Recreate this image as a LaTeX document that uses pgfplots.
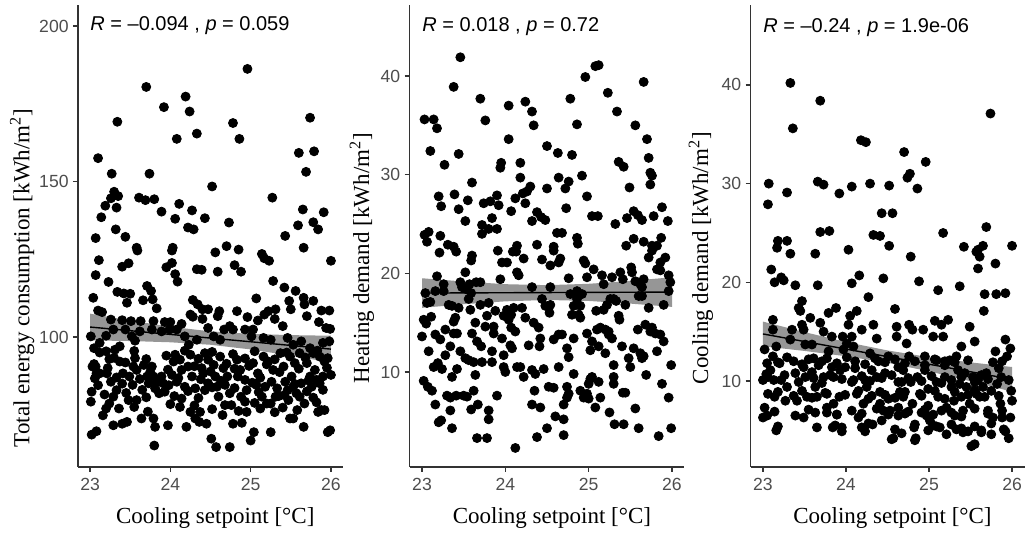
\documentclass[border=0pt]{standalone}
\usepackage{fontspec}
\setmainfont{Liberation Serif}
\newfontfamily\arial{Liberation Sans}
\usepackage{pgfplots}
\usepackage{pgfplotstable}
\pgfplotsset{compat=1.18}
\definecolor{tickgray}{HTML}{4D4D4D}
\definecolor{bandgray}{HTML}{505050}

% total energy consumption vs cooling setpoint
\pgfplotstableread[row sep=\\]{
x y\\
23.10 157.5\\ 23.07 131.8\\ 23.14 138.5\\ 23.19 142.2\\ 23.27 152.5\\ 23.26 144.6\\ 23.30 146.7\\ 23.35 145.3\\
23.33 141.6\\ 23.32 134.6\\ 23.34 169.2\\ 23.44 132.2\\ 23.61 144.8\\ 23.69 144.0\\ 23.80 144.3\\ 23.70 180.4\\
23.74 152.5\\ 23.89 140.3\\ 23.92 173.9\\ 24.06 138.0\\ 24.08 163.7\\ 24.11 142.8\\ 24.19 177.3\\ 24.24 172.5\\
24.22 135.2\\ 24.29 134.6\\ 24.27 140.7\\ 24.33 165.4\\ 24.43 138.2\\ 24.52 148.4\\ 24.73 136.8\\ 24.78 168.8\\
24.86 163.7\\ 24.96 186.2\\ 25.27 144.8\\ 25.43 132.5\\ 25.59 135.9\\ 25.60 159.2\\ 25.65 141.0\\ 25.69 153.1\\
25.74 170.5\\ 25.79 159.7\\ 25.78 136.9\\ 25.84 134.6\\ 25.91 140.1\\ 23.58 128.7\\ 24.03 128.7\\ 24.70 129.2\\
25.66 128.7\\
23.11 124.7\\ 23.07 119.9\\ 23.04 112.6\\ 23.23 117.7\\ 23.34 114.5\\ 23.42 114.0\\ 23.50 113.9\\ 23.40 122.6\\
23.48 123.7\\ 23.59 127.8\\ 23.46 111.0\\ 23.66 111.8\\ 23.71 116.4\\ 23.76 114.8\\ 23.78 112.1\\ 23.83 109.2\\
23.95 122.4\\ 24.02 127.8\\ 24.02 123.8\\ 24.06 120.2\\ 24.09 117.8\\ 24.33 121.8\\ 24.39 121.6\\ 24.56 127.2\\
24.59 121.0\\ 24.80 123.1\\ 24.88 121.0\\ 24.85 128.1\\ 25.14 126.7\\ 25.17 125.3\\ 25.23 124.5\\ 25.28 118.0\\
25.42 115.9\\ 25.56 114.8\\ 26.00 124.5\\ 25.07 112.4\\ 24.28 111.9\\ 24.34 110.5\\ 24.40 108.9\\ 24.47 108.9\\
24.25 107.2\\ 24.28 106.5\\ 24.40 105.8\\ 24.59 106.7\\ 24.61 108.3\\ 24.74 103.5\\ 24.83 108.3\\ 24.96 106.4\\
25.03 102.4\\ 25.09 105.3\\ 25.17 107.2\\ 25.22 108.3\\ 25.31 108.9\\ 25.30 105.8\\ 25.40 103.5\\ 25.48 111.6\\
25.50 108.9\\ 25.66 112.6\\ 25.67 110.5\\ 25.78 111.6\\ 25.70 106.7\\ 25.85 104.8\\ 25.88 108.5\\ 25.98 108.5\\
25.94 102.9\\ 25.99 102.6\\ 25.98 98.6\\ 25.90 98.1\\ 26.00 87.8\\ 25.99 70.0\\ 25.96 69.4\\ 23.01 100.2\\
23.10 108.5\\ 23.15 108.0\\ 23.26 105.6\\ 23.40 105.4\\ 23.51 105.1\\ 23.63 105.1\\ 23.79 105.1\\ 23.93 104.8\\
24.00 104.8\\ 24.14 104.2\\ 24.08 102.4\\ 23.20 100.4\\ 23.29 102.4\\ 23.44 102.4\\ 23.52 100.2\\ 23.56 98.8\\
23.62 101.8\\ 23.77 102.4\\ 23.89 101.8\\ 23.99 102.4\\ 24.18 100.2\\ 24.23 97.5\\ 24.33 99.1\\ 24.47 102.9\\
24.54 100.2\\ 24.62 99.1\\ 24.67 102.4\\ 24.78 102.4\\ 24.93 102.4\\ 25.01 100.2\\ 25.16 99.7\\ 25.25 99.1\\
25.46 99.7\\ 25.53 97.5\\ 25.63 98.6\\ 25.74 96.4\\ 25.78 94.8\\
23.05 96.4\\ 23.12 98.1\\ 23.20 95.4\\ 23.24 92.9\\ 23.31 95.9\\ 23.37 97.0\\ 23.07 90.5\\ 23.03 90.5\\
23.08 88.3\\ 23.12 88.3\\ 23.06 86.7\\ 23.02 82.4\\ 23.01 79.2\\ 23.21 88.3\\ 23.26 85.6\\ 23.33 82.9\\
23.29 80.8\\ 23.24 78.6\\ 23.36 77.0\\ 23.16 74.8\\ 23.02 68.6\\ 23.08 69.7\\ 23.29 71.6\\ 23.40 72.1\\
23.46 72.7\\ 23.37 92.1\\ 23.44 91.8\\ 23.41 88.3\\ 23.49 87.3\\ 23.56 93.2\\ 23.54 90.5\\ 23.58 89.4\\
23.53 84.6\\ 23.58 79.7\\ 23.48 79.7\\ 23.64 73.8\\ 23.67 91.0\\ 23.71 87.3\\ 23.73 85.1\\ 23.77 90.5\\
23.79 87.3\\ 23.81 83.5\\ 23.83 85.6\\ 23.86 81.9\\ 23.89 87.3\\ 23.91 85.1\\ 23.93 82.4\\ 23.79 73.8\\
23.81 71.1\\ 23.80 65.1\\ 23.97 71.6\\ 24.06 94.3\\ 24.04 92.1\\ 24.02 87.8\\ 24.08 85.6\\ 24.12 92.7\\
24.14 89.4\\ 24.18 84.0\\ 24.14 80.2\\ 24.12 77.5\\ 24.20 71.1\\ 24.25 94.3\\ 24.22 90.5\\ 24.27 87.3\\
24.31 83.5\\ 24.25 75.9\\ 24.31 73.8\\ 24.37 75.9\\ 24.36 72.7\\ 24.45 72.1\\ 24.43 94.8\\ 24.47 92.7\\
24.41 88.3\\ 24.47 85.1\\ 24.43 82.9\\ 24.39 90.0\\ 24.54 91.0\\ 24.56 87.3\\ 24.58 84.0\\ 24.60 80.8\\
24.51 67.3\\ 24.57 64.6\\ 24.74 64.6\\ 24.62 93.7\\ 24.66 90.0\\ 24.71 87.3\\ 24.68 84.6\\ 24.74 81.9\\
24.76 78.1\\ 24.68 78.1\\ 24.78 72.1\\ 24.89 72.4\\ 24.83 92.7\\ 24.87 89.4\\ 24.84 87.3\\ 24.93 86.2\\
24.95 82.9\\ 24.93 79.2\\ 24.95 75.9\\ 25.04 69.4\\ 25.00 66.7\\ 25.03 91.6\\ 25.09 88.3\\ 25.07 84.6\\
25.14 80.8\\ 25.20 78.6\\ 25.12 77.0\\ 25.25 69.4\\ 25.16 93.7\\ 25.22 92.1\\ 25.28 89.4\\ 25.26 85.6\\
25.33 83.5\\ 25.31 80.8\\ 25.25 78.6\\ 25.37 94.8\\ 25.41 90.5\\ 25.43 85.6\\ 25.46 82.9\\ 25.42 81.3\\
25.47 79.7\\ 25.49 73.8\\ 25.53 73.8\\ 25.49 93.7\\ 25.55 91.6\\ 25.51 87.3\\ 25.53 84.0\\ 25.57 81.9\\
25.61 80.8\\ 25.63 85.1\\ 25.67 78.6\\ 25.66 71.1\\ 25.61 94.8\\ 25.70 91.6\\ 25.74 87.3\\ 25.76 84.0\\
25.80 89.4\\ 25.82 86.2\\ 25.86 85.1\\ 25.84 75.9\\ 25.88 76.5\\ 25.92 76.5\\ 25.86 93.7\\ 25.92 92.1\\
25.96 93.2\\ 25.90 87.3\\
23.12 95.0\\ 23.30 93.3\\ 23.55 95.5\\ 23.70 92.9\\ 23.95 94.0\\ 24.18 95.6\\ 24.35 93.0\\ 24.52 95.2\\
24.78 94.5\\ 24.93 93.1\\ 25.05 95.4\\ 25.30 92.8\\ 25.45 95.0\\ 25.68 93.4\\ 25.83 95.6\\
23.05 91.3\\ 23.22 90.0\\ 23.33 87.0\\ 23.62 86.5\\ 23.75 88.8\\ 23.97 89.5\\ 24.10 86.8\\ 24.30 90.6\\
24.38 86.4\\ 24.50 88.9\\ 24.70 91.4\\ 24.80 89.8\\ 24.98 90.7\\ 25.12 86.9\\ 25.20 91.2\\ 25.36 88.7\\
25.60 89.8\\ 25.72 86.0\\ 25.95 90.1\\
23.10 84.5\\ 23.18 81.5\\ 23.40 85.0\\ 23.45 82.0\\ 23.65 83.0\\ 23.70 80.6\\ 23.98 84.5\\ 24.05 81.0\\
24.22 82.6\\ 24.35 80.4\\ 24.52 83.8\\ 24.63 85.9\\ 24.80 83.6\\ 24.88 80.8\\ 25.02 85.3\\ 25.10 82.3\\
25.18 84.0\\ 25.35 81.0\\ 25.55 84.9\\ 25.70 82.5\\ 25.78 80.5\\ 25.90 83.0\\
23.20 77.0\\ 23.55 77.5\\ 23.72 76.0\\ 24.00 78.4\\ 24.30 78.0\\ 24.52 76.8\\ 24.65 74.9\\ 24.85 76.2\\
25.05 78.8\\ 25.30 75.8\\ 25.40 77.3\\ 25.58 76.5\\ 25.82 79.0\\
}\totaldata

% heating demand
\pgfplotstableread[row sep=\\]{
x y\\
23.03 35.6\\ 23.10 32.4\\ 23.14 35.6\\ 23.18 34.7\\ 23.27 31.0\\ 23.20 27.8\\ 23.23 26.8\\ 23.38 38.9\\
23.46 41.9\\ 23.39 28.0\\ 23.44 32.1\\ 23.44 26.5\\ 23.52 25.3\\ 23.55 27.4\\ 23.60 29.2\\ 23.70 37.7\\
23.76 35.5\\ 23.72 24.0\\ 23.74 27.1\\ 23.72 24.9\\ 23.82 27.3\\ 23.80 24.5\\ 23.84 25.6\\ 23.90 27.9\\
23.92 26.9\\ 23.90 24.5\\ 23.94 30.7\\ 23.95 31.2\\ 24.04 37.0\\ 24.04 33.6\\ 24.07 26.3\\ 24.12 27.6\\
24.18 31.2\\ 24.18 29.7\\ 24.21 28.1\\ 24.24 37.4\\ 24.24 27.1\\ 24.26 28.3\\ 24.30 28.8\\ 24.32 36.4\\
24.34 35.0\\ 24.32 25.3\\ 24.38 26.2\\ 24.43 25.7\\ 24.48 25.4\\ 24.50 28.6\\ 24.50 32.9\\ 24.63 32.2\\
24.64 29.7\\ 24.62 24.1\\ 24.68 24.1\\ 24.72 28.6\\ 24.73 26.6\\ 24.76 29.3\\ 24.78 37.7\\ 24.80 32.0\\
24.86 35.1\\ 24.92 29.9\\ 24.96 39.9\\ 24.98 27.8\\ 25.04 25.8\\ 25.08 41.0\\ 25.12 41.1\\ 25.11 25.8\\
25.23 38.3\\ 25.32 25.0\\ 25.34 36.4\\ 25.36 31.3\\ 25.42 30.8\\ 25.46 25.6\\ 25.49 28.7\\ 25.54 26.3\\
25.56 35.0\\ 25.59 25.9\\ 25.64 25.4\\ 25.66 39.4\\ 25.70 33.6\\ 25.72 31.7\\ 25.74 30.2\\ 25.76 29.9\\
25.74 29.0\\ 25.78 25.8\\ 25.88 26.7\\ 25.95 25.3\\
23.03 23.9\\ 23.08 24.2\\ 23.06 23.2\\ 23.22 23.8\\ 23.31 22.9\\ 23.38 22.7\\ 24.14 22.8\\ 24.38 22.9\\
24.58 22.7\\ 24.86 23.6\\ 24.87 23.0\\ 25.45 22.8\\ 25.54 23.5\\ 25.66 23.2\\ 25.76 22.8\\ 25.82 22.8\\
25.87 23.6\\
23.21 22.1\\ 23.41 22.2\\ 23.60 21.8\\ 23.59 21.3\\ 23.91 22.3\\ 23.96 21.1\\ 24.02 21.1\\ 24.09 22.2\\
24.13 22.2\\ 24.22 21.5\\ 24.14 20.1\\ 24.16 19.8\\ 24.44 21.4\\ 24.54 20.8\\ 24.58 22.3\\ 24.64 21.1\\
24.66 21.5\\ 24.76 19.5\\ 24.94 21.3\\ 24.96 21.0\\ 24.98 19.6\\ 25.06 20.4\\ 25.16 19.8\\ 25.18 18.9\\
25.28 19.6\\ 25.38 20.1\\ 25.41 19.4\\ 25.51 20.6\\ 25.52 20.1\\ 25.56 19.2\\ 25.72 21.6\\ 25.76 22.3\\
25.86 21.1\\ 25.92 21.6\\ 25.96 19.8\\ 25.98 19.1\\ 25.96 18.2\\ 25.86 20.3\\ 25.82 20.4\\ 25.66 19.4\\
25.64 18.6\\ 25.62 18.9\\ 25.60 17.7\\
23.04 18.0\\ 23.06 17.0\\ 23.10 17.1\\ 23.16 18.2\\ 23.18 19.7\\ 23.26 18.9\\ 23.26 18.2\\ 23.02 15.3\\
23.05 14.9\\ 23.11 15.6\\ 23.00 13.6\\ 23.16 13.8\\ 23.22 13.3\\ 23.08 12.1\\ 23.02 9.1\\ 23.07 8.5\\
23.12 8.1\\ 23.16 6.7\\ 23.20 4.9\\ 23.23 5.1\\ 23.14 10.5\\ 23.19 10.9\\ 23.24 10.3\\ 23.28 14.3\\
23.30 7.6\\ 23.28 11.7\\ 23.34 12.6\\ 23.36 9.5\\ 23.34 6.1\\ 23.36 4.3\\ 23.34 7.4\\ 23.32 16.8\\
23.36 16.7\\ 23.38 15.1\\ 23.38 13.9\\ 23.40 15.5\\ 23.41 7.6\\ 23.44 16.5\\ 23.42 13.9\\ 23.46 19.1\\
23.48 18.6\\ 23.52 20.1\\ 23.53 18.4\\ 23.50 7.6\\ 23.54 7.5\\ 23.42 10.3\\ 23.46 12.1\\ 23.52 11.4\\
23.56 11.2\\ 23.58 16.3\\ 23.56 17.4\\ 23.59 18.0\\ 23.57 18.9\\ 23.60 13.9\\ 23.62 11.0\\ 23.62 8.1\\
23.59 6.2\\ 23.64 9.7\\ 23.64 15.0\\ 23.65 19.1\\ 23.66 13.1\\ 23.67 6.7\\ 23.66 3.3\\ 23.72 11.0\\
23.71 12.6\\ 23.70 19.1\\ 23.70 16.8\\ 23.78 3.3\\ 23.80 5.2\\ 23.80 6.1\\ 23.78 15.7\\ 23.76 14.6\\
23.80 17.0\\ 23.84 12.1\\ 23.84 11.0\\ 23.86 13.9\\ 23.86 14.6\\ 23.88 16.2\\ 23.90 7.6\\ 23.94 19.4\\
23.96 13.4\\ 23.98 11.7\\ 23.98 10.5\\ 24.00 10.0\\ 23.98 15.7\\ 24.02 16.3\\ 24.04 15.3\\ 24.07 15.8\\
24.10 16.5\\ 24.07 14.5\\ 24.06 12.7\\ 24.08 12.4\\ 24.12 14.1\\ 24.14 10.5\\ 24.18 10.5\\ 24.12 2.3\\
24.20 16.5\\ 24.22 9.5\\ 24.24 15.5\\ 24.28 12.7\\ 24.32 10.2\\ 24.32 18.6\\ 24.36 9.8\\ 24.34 15.0\\
24.35 8.1\\ 24.38 3.4\\ 24.32 6.7\\ 24.40 14.5\\ 24.42 13.4\\ 24.41 12.6\\ 24.42 6.4\\ 24.44 17.4\\
24.48 16.7\\ 24.46 10.3\\ 24.52 8.5\\ 24.50 4.3\\ 24.53 16.0\\ 24.54 16.8\\ 24.54 18.6\\ 24.58 8.4\\
24.60 5.5\\ 24.58 13.3\\ 24.64 13.8\\ 24.68 13.8\\ 24.64 10.5\\ 24.70 6.7\\ 24.70 5.2\\ 24.70 3.6\\
24.74 12.4\\ 24.76 11.5\\ 24.74 8.5\\ 24.76 7.8\\ 24.74 7.4\\ 24.78 17.9\\ 24.82 16.7\\ 24.80 15.8\\
24.82 13.4\\ 24.82 9.8\\ 24.88 15.8\\ 24.90 15.5\\ 24.86 18.2\\ 24.86 17.4\\ 24.92 17.9\\ 24.90 16.7\\
24.90 8.1\\ 24.94 7.4\\ 24.98 7.8\\ 25.00 8.8\\ 25.00 7.3\\ 24.98 13.9\\ 25.02 9.3\\ 25.04 9.5\\
25.02 12.2\\ 25.04 13.1\\ 25.08 6.4\\ 25.09 16.2\\ 25.12 9.0\\ 25.14 7.4\\ 25.12 12.6\\ 25.10 14.3\\
25.14 14.5\\ 25.18 16.3\\ 25.20 11.9\\ 25.20 14.3\\ 25.22 16.8\\ 25.24 14.1\\ 25.24 13.8\\ 25.26 17.4\\
25.25 5.9\\ 25.28 13.4\\ 25.30 17.4\\ 25.30 9.5\\ 25.30 8.8\\ 25.30 10.7\\ 25.31 4.7\\ 25.33 17.2\\
25.36 15.7\\ 25.37 15.3\\ 25.40 12.6\\ 25.41 7.9\\ 25.42 4.7\\ 25.44 7.9\\ 25.44 16.8\\ 25.48 11.4\\
25.50 10.5\\ 25.54 12.4\\ 25.56 6.3\\ 25.59 14.3\\ 25.60 4.3\\ 25.62 11.9\\ 25.64 17.7\\ 25.64 11.4\\
25.66 11.6\\ 25.69 9.7\\ 25.68 14.8\\ 25.72 16.5\\ 25.74 14.1\\ 25.76 14.5\\ 25.80 13.9\\ 25.82 12.1\\
25.84 3.5\\ 25.86 13.8\\ 25.88 8.8\\ 25.90 13.1\\ 25.90 16.8\\ 25.96 7.4\\ 25.99 10.7\\ 25.99 4.3\\
}\heatdata

% cooling demand
\pgfplotstableread[row sep=\\]{
x y\\
23.33 40.2\\ 23.69 38.4\\ 23.36 35.6\\ 24.18 34.4\\ 24.24 34.2\\ 24.70 33.2\\ 24.96 32.2\\ 25.74 37.1\\
23.07 30.0\\ 23.06 27.9\\ 23.29 29.1\\ 23.66 30.2\\ 23.73 29.9\\ 23.92 29.0\\ 24.07 29.7\\ 24.29 30.0\\
24.52 29.8\\ 24.74 30.6\\ 24.77 31.0\\ 24.86 29.5\\ 24.43 27.0\\ 24.56 27.0\\ 23.69 25.1\\ 23.80 25.2\\
24.33 24.8\\ 24.41 24.7\\ 25.17 25.0\\ 25.69 25.6\\ 23.18 24.2\\ 23.29 24.2\\ 23.17 23.5\\ 24.52 23.7\\
25.42 23.6\\ 25.65 23.7\\ 26.00 23.7\\ 24.03 23.3\\ 25.59 23.3\\
23.33 22.9\\ 23.10 21.3\\ 23.14 20.0\\ 23.22 20.5\\ 23.25 20.2\\ 23.39 19.7\\ 23.66 19.7\\ 23.63 22.9\\
24.16 20.7\\ 24.07 19.9\\ 24.45 20.4\\ 24.78 22.6\\ 24.88 20.1\\ 25.11 19.2\\ 25.37 19.6\\ 25.57 23.1\\
25.61 22.6\\ 25.59 21.4\\ 25.80 21.9\\ 25.67 18.8\\ 25.81 18.8\\ 25.92 18.9\\ 25.66 17.1\\
23.02 13.2\\ 23.00 10.1\\ 23.00 6.3\\ 23.05 6.5\\ 23.06 8.7\\ 23.04 10.7\\ 23.05 11.8\\ 23.09 11.1\\
23.12 12.5\\ 23.12 16.2\\ 23.12 15.2\\ 23.16 13.5\\ 23.13 10.1\\ 23.14 8.4\\ 23.18 5.4\\ 23.20 11.8\\
23.22 10.1\\ 23.27 8.0\\ 23.29 9.4\\ 23.33 14.2\\ 23.35 15.2\\ 23.37 12.0\\ 23.39 10.8\\ 23.41 8.0\\
23.39 6.5\\ 23.43 17.4\\ 23.45 17.1\\ 23.47 18.1\\ 23.47 15.7\\ 23.49 15.2\\ 23.51 13.7\\ 23.49 11.4\\
23.51 10.4\\ 23.53 8.4\\ 23.49 6.3\\ 23.57 16.4\\ 23.59 13.7\\ 23.61 12.3\\ 23.59 10.9\\ 23.63 9.4\\
23.65 8.4\\ 23.63 6.8\\ 23.65 5.3\\ 23.69 15.9\\ 23.73 15.0\\ 23.71 12.0\\ 23.73 10.4\\ 23.77 8.7\\
23.77 6.8\\ 23.79 16.9\\ 23.79 13.0\\ 23.83 14.5\\ 23.83 11.4\\ 23.85 10.4\\ 23.85 7.7\\ 23.84 5.3\\
23.88 17.4\\ 23.89 6.6\\ 23.92 8.4\\ 23.93 11.1\\ 23.95 5.3\\ 23.96 14.5\\ 23.97 13.2\\ 23.99 11.4\\
24.01 13.8\\ 24.03 15.7\\ 24.05 16.6\\ 24.07 14.5\\ 24.09 13.5\\ 24.11 11.3\\ 24.09 10.1\\ 24.13 8.7\\
24.15 6.3\\ 24.13 17.1\\ 24.19 15.2\\ 24.21 7.7\\ 24.23 4.9\\ 24.23 10.1\\ 24.25 9.4\\ 24.27 18.5\\
24.29 12.8\\ 24.31 11.1\\ 24.31 8.5\\ 24.32 5.6\\ 24.33 15.7\\ 24.37 14.3\\ 24.39 12.0\\ 24.37 10.4\\
24.41 8.9\\ 24.41 7.7\\ 24.43 6.0\\ 24.45 7.0\\ 24.47 10.8\\ 24.51 12.5\\ 24.51 8.2\\ 24.53 7.0\\
24.57 4.2\\ 24.59 17.3\\ 24.61 15.5\\ 24.61 14.5\\ 24.63 11.4\\ 24.63 9.9\\ 24.65 8.9\\ 24.63 6.5\\
24.69 11.1\\ 24.69 8.4\\ 24.71 6.7\\ 24.73 13.8\\ 24.76 15.7\\ 24.76 12.5\\ 24.78 9.9\\ 24.80 7.7\\
24.82 5.3\\ 24.84 4.2\\ 24.80 15.2\\ 24.86 10.4\\ 24.89 8.7\\ 24.91 6.8\\ 24.93 15.2\\ 24.95 12.5\\
24.95 11.1\\ 24.99 9.2\\ 24.99 7.5\\ 24.97 6.5\\ 25.01 6.0\\ 25.05 14.5\\ 25.07 16.1\\ 25.09 12.1\\
25.09 9.9\\ 25.11 8.4\\ 25.09 5.4\\ 25.13 5.3\\ 25.15 15.7\\ 25.17 14.5\\ 25.19 11.6\\ 25.19 10.4\\
25.21 7.3\\ 25.21 4.6\\ 25.23 16.2\\ 25.25 12.1\\ 25.27 9.4\\ 25.30 8.0\\ 25.31 6.5\\ 25.33 5.1\\
25.33 12.5\\ 25.35 11.1\\ 25.37 9.7\\ 25.39 13.5\\ 25.39 8.4\\ 25.41 7.0\\ 25.41 4.8\\ 25.43 10.8\\
25.45 9.4\\ 25.47 4.9\\ 25.49 15.5\\ 25.49 7.7\\ 25.51 3.4\\ 25.55 3.6\\ 25.53 10.4\\ 25.55 14.0\\
25.57 8.7\\ 25.59 10.1\\ 25.61 8.4\\ 25.63 4.8\\ 25.65 9.4\\ 25.67 8.4\\ 25.69 10.8\\ 25.71 7.0\\
25.75 4.6\\ 25.77 6.3\\ 25.77 11.9\\ 25.80 13.0\\ 25.82 9.7\\ 25.84 11.3\\ 25.86 7.7\\ 25.88 6.3\\
25.90 5.1\\ 25.92 14.2\\ 25.94 12.5\\ 25.96 4.2\\ 25.98 13.3\\ 25.99 9.0\\ 26.00 8.0\\ 25.98 6.3\\
25.96 10.1\\ 25.87 10.4\\ 25.75 9.0\\
23.18 11.9\\ 23.29 12.4\\ 23.47 11.7\\ 23.55 12.2\\ 23.67 11.6\\ 23.77 12.3\\ 23.89 11.8\\ 24.01 12.4\\
24.11 12.0\\ 24.23 11.7\\ 24.35 12.3\\ 24.47 11.9\\ 24.59 12.2\\ 24.71 11.8\\ 24.83 12.0\\ 24.95 11.6\\
25.07 12.2\\ 25.19 12.0\\ 25.31 11.9\\ 25.47 12.1\\ 25.88 12.0\\
23.06 10.4\\ 23.26 10.6\\ 23.43 9.9\\ 23.61 10.3\\ 23.71 9.8\\ 23.81 10.6\\ 23.95 10.2\\ 24.07 9.9\\
24.19 10.5\\ 24.29 10.0\\ 24.43 10.3\\ 24.55 10.6\\ 24.67 9.9\\ 24.75 10.3\\ 24.91 10.0\\ 25.03 10.5\\
25.15 9.8\\ 25.27 10.1\\ 25.39 10.4\\ 25.55 9.9\\ 25.63 10.6\\ 25.71 10.2\\
23.18 8.9\\ 23.37 8.5\\ 23.47 9.0\\ 23.59 8.3\\ 23.75 8.8\\ 23.99 8.6\\ 24.15 9.0\\ 24.27 8.2\\
24.47 8.6\\ 24.59 8.3\\ 24.71 8.9\\ 24.91 8.5\\ 25.07 9.0\\ 25.19 8.2\\ 25.31 8.9\\ 25.47 8.6\\
25.55 9.1\\ 25.84 8.5\\
23.02 7.3\\ 23.14 6.9\\ 23.55 7.1\\ 23.77 7.3\\ 23.89 6.6\\ 24.07 7.0\\ 24.19 6.7\\ 24.37 7.2\\
24.51 6.6\\ 24.63 7.3\\ 24.75 6.9\\ 24.95 7.1\\ 25.05 6.6\\ 25.15 7.0\\ 25.27 6.8\\ 25.39 6.4\\
25.55 7.2\\ 25.71 6.7\\ 25.88 7.0\\
23.16 5.0\\ 23.87 5.5\\ 23.95 4.9\\ 24.19 5.3\\ 24.27 5.7\\ 24.59 5.1\\ 24.67 4.7\\ 24.83 5.6\\
24.99 5.0\\ 25.05 5.5\\ 25.27 5.6\\ 25.39 5.2\\ 25.55 5.4\\ 25.63 5.0\\ 25.75 5.7\\ 25.92 4.9\\
24.55 4.1\\ 24.83 4.0\\
}\cooldata

\pgfplotsset{
  panel/.style={
    scale only axis, height=231pt,
    axis x line*=bottom, axis y line*=left,
    axis line style={black!80, line width=0.6pt},
    tick align=outside, major tick length=2.5pt,
    tick style={black!80, line width=0.6pt},
    xmin=22.85, xmax=26.15, xtick={23,24,25,26},
    ticklabel style={font=\arial\fontsize{8.8}{10}\selectfont, text=tickgray},
    /pgf/number format/assume math mode=true,
    xticklabel style={anchor=north, inner sep=0pt, yshift=-3pt},
    yticklabel style={anchor=east, inner sep=0pt, xshift=-2pt},
    label style={font=\fontsize{11.5}{13}\selectfont},
    xlabel={Cooling setpoint [°C]},
    xlabel style={at={(axis description cs:0.518,-0.110)}, anchor=center},
    clip=false,
  },
  dots/.style={only marks, mark=*, mark size=2.25pt, black},
  band/.style={fill=bandgray, fill opacity=0.6, draw=none},
  fit/.style={black, line width=0.7pt},
}
\tikzset{stat/.style={anchor=west, inner sep=0pt, font=\arial\fontsize{10}{12}\selectfont}}

\begin{document}
\begin{tikzpicture}
\useasboundingbox (0,0) rectangle (514.5pt,266.5pt);

\begin{axis}[panel, at={(39pt,33pt)}, anchor=south west, width=132.5pt,
  ymin=58.2, ymax=206.75, ytick={100,150,200},
  ylabel={Total energy consumption [kWh/m\textsuperscript{2}]},
  ylabel style={at={(axis description cs:-0.211,0.409)}, anchor=center}]
  \addplot[dots] table {\totaldata};
  \addplot[band] coordinates {(23,107.5)(23.5,105.3)(24,103.3)(24.5,101.8)(25,101.0)(25.5,100.6)(26,100.4)
    (26,91.8)(25.5,94.0)(25,96.0)(24.5,97.5)(24,98.3)(23.5,98.7)(23,98.9)} -- cycle;
  \addplot[fit] coordinates {(23,103.2)(26,96.1)};
  \node[stat] at (axis cs:23,200) {\textit{R} = –0.094 , \textit{p} = 0.059};
\end{axis}

\begin{axis}[panel, at={(204.75pt,33pt)}, anchor=south west, width=137.5pt,
  ymin=0.37, ymax=47.2, ytick={10,20,30,40},
  ylabel={Heating demand [kWh/m\textsuperscript{2}]},
  ylabel style={at={(axis description cs:-0.173,0.452)}, anchor=center}]
  \addplot[dots] table {\heatdata};
  \addplot[band] coordinates {(23,19.5)(23.5,19.17)(24,18.9)(24.5,18.8)(25,18.94)(25.5,19.23)(26,19.6)
    (26,16.6)(25.5,16.93)(25,17.2)(24.5,17.3)(24,17.16)(23.5,16.87)(23,16.5)} -- cycle;
  \addplot[fit] coordinates {(23,18.0)(26,18.1)};
  \node[stat] at (axis cs:23,45.0) {\textit{R} = 0.018 , \textit{p} = 0.72};
\end{axis}

\begin{axis}[panel, at={(375.25pt,33pt)}, anchor=south west, width=137pt,
  ymin=1.29, ymax=48.1, ytick={10,20,30,40},
  ylabel={Cooling demand [kWh/m\textsuperscript{2}]},
  ylabel style={at={(axis description cs:-0.181,0.452)}, anchor=center}]
  \addplot[dots] table {\cooldata};
  \addplot[band] coordinates {(23,16.02)(23.5,14.96)(24,13.95)(24.5,13.1)(25,12.42)(25.5,11.89)(26,11.42)
    (26,8.92)(25.5,9.98)(25,10.98)(24.5,11.85)(24,12.51)(23.5,13.05)(23,13.52)} -- cycle;
  \addplot[fit] coordinates {(23,14.77)(26,10.17)};
  \node[stat] at (axis cs:23,45.8) {\textit{R} = –0.24 , \textit{p} = 1.9e-06};
\end{axis}
\end{tikzpicture}
\end{document}
